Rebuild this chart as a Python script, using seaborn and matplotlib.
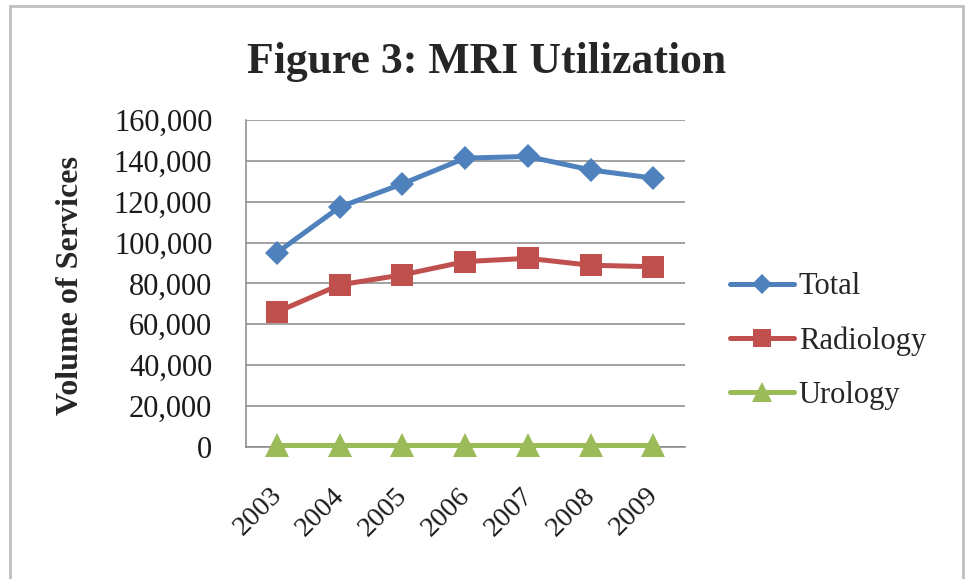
import matplotlib
matplotlib.use("Agg")
import matplotlib.pyplot as plt
import matplotlib.transforms as mtransforms
from matplotlib.lines import Line2D
from matplotlib.patches import Rectangle
import pandas as pd
import seaborn as sns

# data
years = ["2003", "2004", "2005", "2006", "2007", "2008", "2009"]
total = [95100, 117400, 128800, 141400, 142200, 135600, 131600]
radiology = [66000, 79300, 84200, 90700, 92300, 88900, 88200]
urology = [700, 700, 700, 700, 700, 700, 700]
series_names = ["Total", "Radiology", "Urology"]
y_ticks = [0, 20000, 40000, 60000, 80000, 100000, 120000, 140000, 160000]

colors = ["#4F81BD", "#C0504D", "#9BBB59"]
markers = ["D", "s", "^"]
msizes = [12.5, 15.5, 17]

df = pd.DataFrame({
    "year": years * 3,
    "value": total + radiology + urology,
    "series": [s for s in series_names for _ in years],
})

sns.set_style("white")
plt.rcParams["font.family"] = ["Liberation Serif", "DejaVu Serif"]

fig = plt.figure(figsize=(9.67, 5.79), dpi=100)
ax = fig.add_axes([0.254, 0.2285, 0.454, 0.564])

for name, c, m, ms in zip(series_names, colors, markers, msizes):
    sub = df[df["series"] == name]
    sns.lineplot(data=sub, x="year", y="value", ax=ax, color=c, marker=m,
                 markersize=ms, markeredgewidth=0, linewidth=3.6, legend=False,
                 clip_on=False, zorder=3)

ax.set_xlim(-0.5, 6.5)
ax.set_ylim(0, 160000)
ax.set_yticks(y_ticks)
ax.set_yticklabels([f"{v:,}" for v in y_ticks])
ax.yaxis.grid(True, color="#878787", linewidth=1.1)
ax.xaxis.grid(False)
for s in ["top", "right"]:
    ax.spines[s].set_visible(False)
for s in ["left", "bottom"]:
    ax.spines[s].set_color("#878787")
    ax.spines[s].set_linewidth(1.1)
ax.set_xlabel("")
ax.set_ylabel("")
ax.tick_params(axis="y", length=0, pad=24, labelsize=22, labelcolor="#1a1a1a")
ax.tick_params(axis="x", length=0, pad=26, labelsize=20.5, labelcolor="#1a1a1a")
shift = mtransforms.ScaledTranslation(10 / 100, 0, fig.dpi_scale_trans)
for lab in ax.get_xticklabels():
    lab.set_rotation(45)
    lab.set_ha("right")
    lab.set_transform(lab.get_transform() + shift)

fig.text(71 / 967, 1 - 285.5 / 579, "Volume of Services", rotation=90,
         ha="center", va="center", fontsize=23, fontweight="bold")
fig.text(487 / 967, 1 - 73 / 579, "Figure 3: MRI Utilization", ha="center",
         va="baseline", fontsize=31.5, fontweight="bold")

handles = [Line2D([], [], color=c, marker=m, markersize=ms * 0.85,
                  markeredgewidth=0, linewidth=3.6)
           for c, m, ms in zip(colors, markers, msizes)]
fig.legend(handles, series_names, loc="center left",
           bbox_to_anchor=(730 / 967, 1 - 341 / 579), frameon=False,
           fontsize=22, handlelength=2.1, handletextpad=0.15,
           labelspacing=0.82, borderpad=0, borderaxespad=0)

fig.add_artist(Rectangle((10 / 967, -0.05), 953 / 967, 1 - 6 / 579 + 0.05,
                         transform=fig.transFigure, fill=False,
                         edgecolor="#BFBFBF", linewidth=2, clip_on=False))

fig.savefig("out.png", dpi=100)
